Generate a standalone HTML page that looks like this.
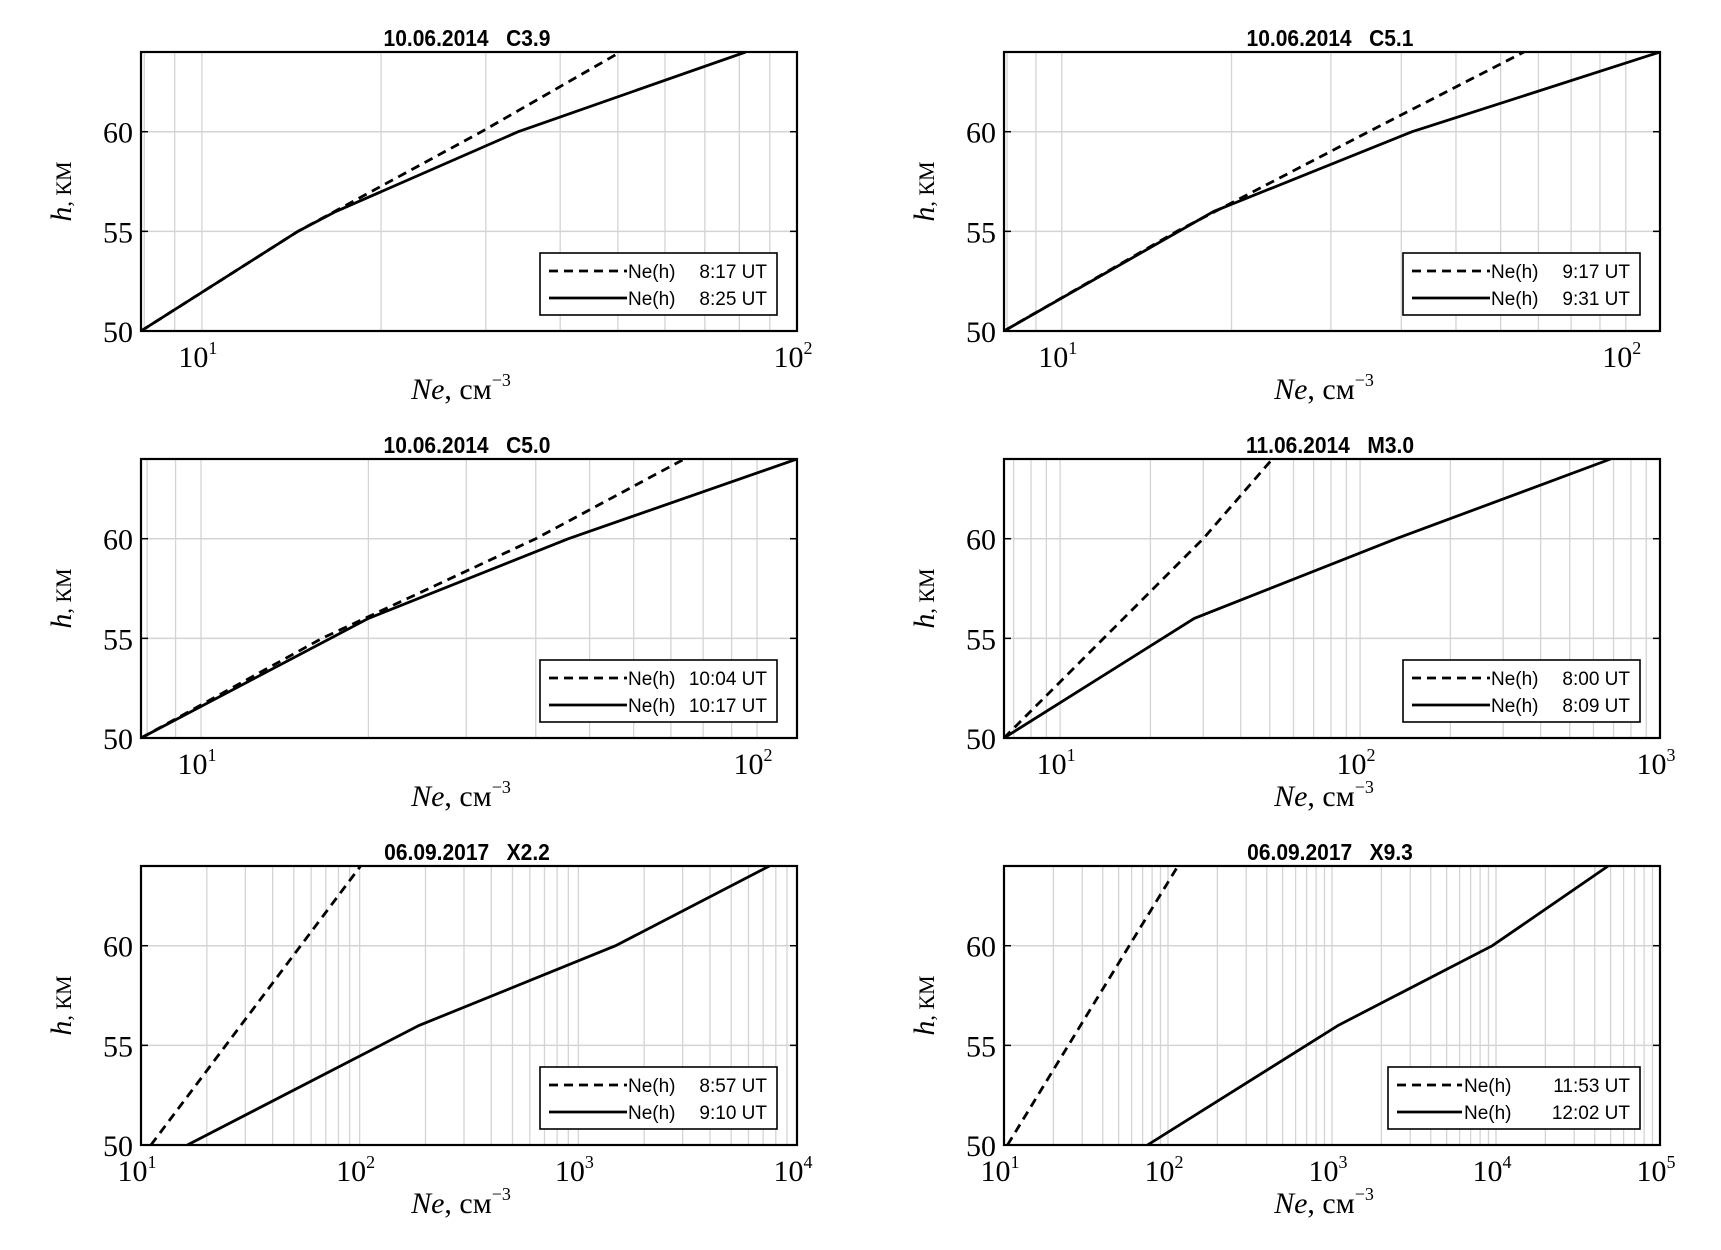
<!DOCTYPE html>
<html><head><meta charset="utf-8"><style>
html,body{margin:0;padding:0;background:#fff;}
svg{display:block;}
.tt{font-family:"Liberation Sans",Arial,sans-serif;font-weight:bold;font-size:21px;}
.tk{font-family:"Liberation Serif","Noto Serif CJK SC",serif;font-size:30px;}
.lg{font-family:"Liberation Sans",Arial,sans-serif;font-size:19px;}
</style></head><body>
<svg id="fig" width="1721" height="1250" xmlns="http://www.w3.org/2000/svg"></svg>
<script>
// Panel titles
const titles = ["10.06.2014\u00a0\u00a0\u00a0C3.9","10.06.2014\u00a0\u00a0\u00a0C5.1","10.06.2014\u00a0\u00a0\u00a0C5.0","11.06.2014\u00a0\u00a0\u00a0M3.0","06.09.2017\u00a0\u00a0\u00a0X2.2","06.09.2017\u00a0\u00a0\u00a0X9.3"];
// x-axis ranges (Ne, cm^-3)
const xMins = [7.9, 7.9, 7.8, 6.5, 10, 10];
const xMaxs = [100, 115, 118, 1000, 10000, 100000];
// y ticks (km)
const yTicks = [50, 55, 60];
const yMin = 50, yMax = 64;
// x tick exponents per panel
const xTickExps = [[1,2],[1,2],[1,2],[1,2,3],[1,2,3,4],[1,2,3,4,5]];
// series heights / values
const dashH = [[50,55,60,64],[50,55,60,64],[50,55,60,64],[50,60,64],[50,64],[50,64]];
const dashNe = [[7.9,14.5,29.5,50.5],[7.9,16,35,66],[7.8,16.5,40,74],[6.5,30,51],[11.1,101],[10.5,115]];
const solidH = [[50,55,56,60,64],[50,56,60,64],[50,56,60,64],[50,56,60,64],[50,56,60,64],[50,56,60,64]];
const solidNe = [[7.9,14.5,16.8,34,82],[7.9,18.6,41.8,115],[7.8,20,45.8,118],[6.5,28,132,685],[16.3,187,1480,7480],[75,1090,9500,48300]];
// legend labels
const legDash = ["8:17 UT","9:17 UT","10:04 UT","8:00 UT","8:57 UT","11:53 UT"];
const legSolid = ["8:25 UT","9:31 UT","10:17 UT","8:09 UT","9:10 UT","12:02 UT"];

const NS="http://www.w3.org/2000/svg";
const svg=document.getElementById('fig');
function mk(tag,attrs,parent){const e=document.createElementNS(NS,tag);for(const k in attrs)e.setAttribute(k,attrs[k]);(parent||svg).appendChild(e);return e;}
const colX=[141,1004], axW=656;
const rowY=[52,459,866], axH=279;
for(let p=0;p<6;p++){
  const L=colX[p%2], T=rowY[Math.floor(p/2)], R=L+axW, B=T+axH;
  const g=mk('g',{});
  
  
  const lx0=Math.log10(xMins[p]), lx1=Math.log10(xMaxs[p]);
  const X=v=>L+(Math.log10(v)-lx0)/(lx1-lx0)*axW;
  const Y=v=>B-(v-yMin)/(yMax-yMin)*axH;
  for(let e=0;e<=5;e++){for(let m=1;m<10;m++){const v=m*Math.pow(10,e);if(v<xMins[p]*1.001||v>xMaxs[p]*0.999)continue;
    const x=X(v);const gl=mk('line',{x1:x,x2:x,y1:T,y2:B,stroke:'#d4d4d4','stroke-width':1.3},g);
    }}
  yTicks.forEach(v=>{if(v>yMin){const y=Y(v);const gl=mk('line',{x1:L,x2:R,y1:y,y2:y,stroke:'#d4d4d4','stroke-width':1.5},g);
    
    mk('line',{x1:L,x2:L+7,y1:y,y2:y,stroke:'#000','stroke-width':1.5},g);mk('line',{x1:R-7,x2:R,y1:y,y2:y,stroke:'#000','stroke-width':1.5},g);}});
  const cp='clip'+p;const cl=mk('clipPath',{id:cp},g);mk('rect',{x:L,y:T,width:axW,height:axH},cl);
  const dp=dashNe[p].map((v,i)=>X(v)+','+Y(dashH[p][i])).join(' ');
  const d=mk('polyline',{points:dp,fill:'none',stroke:'#000','stroke-width':2.8,'stroke-dasharray':'9,6','clip-path':'url(#'+cp+')'},g);
  
  const sp=solidNe[p].map((v,i)=>X(v)+','+Y(solidH[p][i])).join(' ');
  const s=mk('polyline',{points:sp,fill:'none',stroke:'#000','stroke-width':2.8,'clip-path':'url(#'+cp+')'},g);
  
  const fr=mk('rect',{x:L,y:T,width:axW,height:axH,fill:'none',stroke:'#000','stroke-width':2.2},g);
  
  const tt=mk('text',{x:L+axW*0.5-2,y:T-6,'text-anchor':'middle',class:'tt',transform:'translate('+(L+axW*0.5)+','+(T-6)+') scale(1,1.12) translate('+(-(L+axW*0.5))+','+(-(T-6))+')'},g);tt.textContent=titles[p];
  
  yTicks.forEach(v=>{const t=mk('text',{x:L-8,y:Y(v)+11,'text-anchor':'end',class:'tk'},g);t.textContent=v;
    });
  xTickExps[p].forEach(e=>{const x=X(Math.pow(10,e));const t=mk('text',{x:x-4,y:B+36,'text-anchor':'middle',class:'tk'},g);
    t.textContent='10';const ts=mk('tspan',{dy:-13,'font-size':18},t);ts.textContent=String(e);
    });
  const xt=mk('text',{x:L+axW*0.5-8,y:B+68,'text-anchor':'middle',class:'tk'},g);
  const a=mk('tspan',{'font-style':'italic'},xt);a.textContent='Ne';
  const b=mk('tspan',{},xt);b.textContent=', см';
  const c=mk('tspan',{dy:-13,'font-size':18},xt);c.textContent='−3';
  
  const yt=mk('text',{transform:'translate('+(L-70)+','+(T+axH*0.5)+') rotate(-90)','text-anchor':'middle',class:'tk'},g);
  const ya=mk('tspan',{'font-style':'italic'},yt);ya.textContent='h';
  const yb=mk('tspan',{'font-size':22},yt);yb.textContent=', КМ';
  
  const lw=(p==5)?252:237, lx=R-20-lw, ly=B-78;
  const lg=mk('g',{},g);
  mk('rect',{x:lx,y:ly,width:lw,height:62,fill:'#fff',stroke:'#000','stroke-width':1.6},lg);
  [[legDash[p],true],[legSolid[p],false]].forEach((it,i)=>{const yy=ly+18+i*27;
    const ln=mk('line',{x1:lx+9,x2:lx+(p==5?74:87),y1:yy,y2:yy,stroke:'#000','stroke-width':2.8},lg);
    if(it[1])ln.setAttribute('stroke-dasharray','9,6');
    
    const t=mk('text',{x:lx+(p==5?76:88),y:yy+7,class:'lg'},lg);t.textContent='Ne(h)';
    
    const t2=mk('text',{x:lx+lw-10,y:yy+7,'text-anchor':'end',class:'lg'},lg);t2.textContent=it[0];
    });
}
</script>
</body></html>
